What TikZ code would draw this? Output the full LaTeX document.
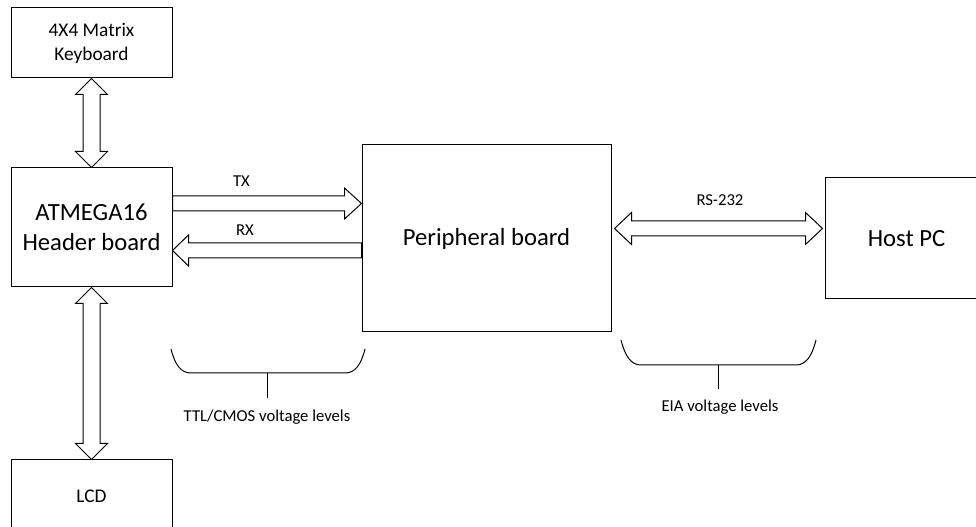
\documentclass[tikz,border=0pt]{standalone}
\usepackage{fontspec}
\setmainfont{Carlito}
\usetikzlibrary{calc}
\tikzset{
  block/.style={draw, line width=0.75pt, inner sep=0pt, minimum width=120.75pt, align=center},
  fat/.style={draw, line width=0.75pt, line join=miter},
  brace/.style={draw, line width=0.75pt},
  bigtext/.style={font=\fontsize{18.5}{22.5}\selectfont},
  midtext/.style={font=\fontsize{14.5}{18}\selectfont},
  smalltext/.style={font=\fontsize{12.5}{15}\selectfont}
}
\begin{document}
\begin{tikzpicture}[x=0.75pt,y=0.75pt]
\useasboundingbox (0,0) rectangle (976,527);
\clip (0,0) rectangle (976,527);
% blocks
\node[block, midtext, minimum height=52.5pt] (kbd) at (91.5,484) {4X4 Matrix\\Keyboard};
\node[block, bigtext, minimum height=89.25pt] (hdr) at (91.5,299.5) {ATMEGA16\\Header board};
\node[block, midtext, minimum height=54pt] (lcd) at (91.5,31) {LCD};
\node[block, bigtext, minimum width=186.75pt, minimum height=140.25pt] (per) at (486.5,288.5) {Peripheral board};
\node[block, bigtext, minimum width=122.25pt, minimum height=90.75pt] (host) at (906.5,288.5) {Host PC};
% keyboard <-> header
\draw[fat] (kbd.south) -- ++(16,-16) -- ++(-7.5,0) -- ($(hdr.north)+(8.5,16)$) -- ++(7.5,0) -- (hdr.north)
  -- ++(-16,16) -- ++(7.5,0) -- ($(kbd.south)+(-8.5,-16)$) -- ++(-7.5,0) -- cycle;
% header <-> lcd
\draw[fat] (hdr.south) -- ++(16,-16) -- ++(-7.5,0) -- ($(lcd.north)+(8.5,16)$) -- ++(7.5,0) -- (lcd.north)
  -- ++(-16,16) -- ++(7.5,0) -- ($(hdr.south)+(-8.5,-16)$) -- ++(-7.5,0) -- cycle;
% TX
\coordinate (tx) at ($(hdr.east)+(0,24)$);
\coordinate (txe) at (per.west |- tx);
\draw[fat] ($(tx)+(0,7.5)$) -- ($(txe)+(-17,7.5)$) -- ++(0,8) -- (txe) -- ++(-17,-15.5) -- ++(0,8)
  -- ($(tx)+(0,-7.5)$) -- cycle;
\node[smalltext] (txl) at (241.5,346) {TX};
% RX
\coordinate (rx) at ($(hdr.east)+(0,-23)$);
\coordinate (rxs) at (per.west |- rx);
\draw[fat] ($(rxs)+(0,7.5)$) -- ($(rx)+(16,7.5)$) -- ++(0,8) -- (rx) -- ++(16,-15.5) -- ++(0,8)
  -- ($(rxs)+(0,-7.5)$) -- cycle;
\node[smalltext] (rxl) at (245,297) {RX};
% RS-232
\coordinate (rsa) at ($(per.east)+(3,10)$);
\coordinate (rsb) at ($(host.west |- rsa)+(-2,0)$);
\draw[fat] (rsa) -- ++(17,16) -- ++(0,-8.5) -- ($(rsb)+(-17,7.5)$) -- ++(0,8.5) -- (rsb)
  -- ++(-17,-16) -- ++(0,8.5) -- ($(rsa)+(17,-7.5)$) -- ++(0,-8.5) -- cycle;
\node[smalltext] (rsl) at (720,327) {RS-232};
% voltage level braces
\draw[brace] (171,178) .. controls (175,162) and (181,154) .. (191,154) -- (345,154)
  .. controls (355,154) and (361,162) .. (365,178);
\draw[brace] (267,154) -- (267,129);
\node[smalltext] (ttl) at (267,110.3) {TTL/CMOS voltage levels};
\draw[brace] (621,187) .. controls (625,171) and (631,162) .. (641,162) -- (796,162)
  .. controls (806,162) and (812,171) .. (816,187);
\draw[brace] (718,162) -- (718,138);
\node[smalltext] (eia) at (720,120) {EIA voltage levels};
\end{tikzpicture}
\end{document}
